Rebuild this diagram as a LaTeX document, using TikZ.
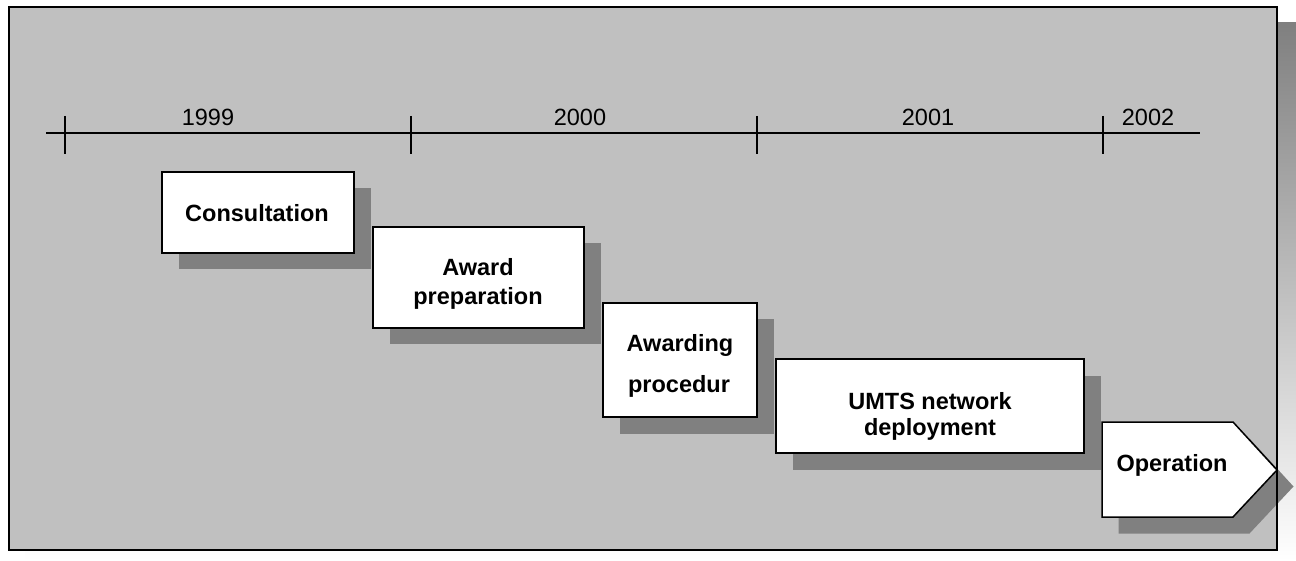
\documentclass[tikz,border=0pt]{standalone}
\usepackage{fontspec}
\setmainfont{Liberation Sans}
\usetikzlibrary{shadows}
\definecolor{panel}{HTML}{C0C0C0}
\definecolor{shade}{HTML}{808080}
\begin{document}
\begin{tikzpicture}[x=1pt,y=-1pt,
  phasebox/.style={draw=black, line width=1.5pt, fill=white, inner sep=0pt,
    drop shadow={shadow xshift=16.5pt, shadow yshift=-16.5pt, fill=shade, opacity=1}},
  phasetext/.style={anchor=base, inner sep=0pt, font=\fontsize{23.5}{28}\selectfont\bfseries},
  yeartext/.style={anchor=base, inner sep=0pt, font=\fontsize{23.5}{28}\selectfont},
  axis/.style={line width=1.4pt},
]
\useasboundingbox (0,0) rectangle (1296,561);

% panel with its shadow
\fill[shade] (25,23) rectangle (1296,561);
\fill[panel] (9,7) rectangle (1277,550);

% timeline
\coordinate (axstart) at (46,133);
\coordinate (axend) at (1200,133);
\draw[axis] (axstart) -- (axend);
\foreach \x/\n in {65/t0, 411/t1, 757/t2, 1103/t3} {
  \coordinate (\n) at (\x,133);
  \draw[axis] ([yshift=17pt]\n) -- ([yshift=-21pt]\n);
}
\node[yeartext] (y1999) at (208,126) {1999};
\node[yeartext] (y2000) at (580,126) {2000};
\node[yeartext] (y2001) at (928,126) {2001};
\node[yeartext] (y2002) at (1148,126) {2002};

% phases
\node[phasebox, minimum width=192pt, minimum height=81pt] (consult) at (258,212.5) {};
\node[phasetext] (consultT) at (257,222) {Consultation};

\node[phasebox, minimum width=211pt, minimum height=101pt] (award) at (478.5,277.5) {};
\node[phasetext] (awardA) at (478,276) {Award};
\node[phasetext] (awardB) at (478,305) {preparation};

\node[phasebox, minimum width=154pt, minimum height=114pt] (awarding) at (680,360) {};
\node[phasetext] (awardingA) at (680,352) {Awarding};
\node[phasetext] (awardingB) at (679,392) {procedur};

\node[phasebox, minimum width=308pt, minimum height=94pt] (umts) at (930,406) {};
\node[phasetext] (umtsA) at (930,409) {UMTS network};
\node[phasetext] (umtsB) at (930,435) {deployment};

\draw[line width=1.5pt, fill=white,
  drop shadow={shadow xshift=16.5pt, shadow yshift=-16.5pt, fill=shade, opacity=1}]
  (1102,422) -- (1233,422) -- (1277,470) -- (1233,517) -- (1102,517) -- cycle;
\node[phasetext] (operT) at (1172,471) {Operation};

% panel border
\draw[line width=2pt] (9,7) rectangle (1277,550);
\end{tikzpicture}
\end{document}
